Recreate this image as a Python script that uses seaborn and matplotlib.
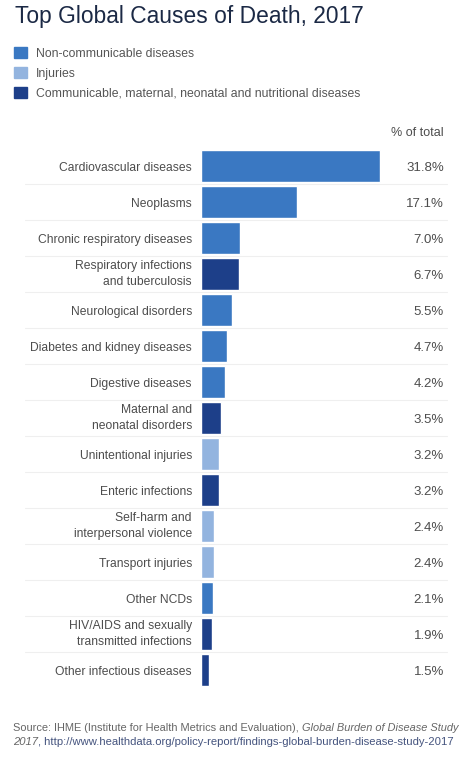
import matplotlib
matplotlib.use("Agg")
import matplotlib.pyplot as plt
import matplotlib.patches as mpatches
import pandas as pd
import seaborn as sns

# data
causes = [
    "Cardiovascular diseases",
    "Neoplasms",
    "Chronic respiratory diseases",
    "Respiratory infections\nand tuberculosis",
    "Neurological disorders",
    "Diabetes and kidney diseases",
    "Digestive diseases",
    "Maternal and\nneonatal disorders",
    "Unintentional injuries",
    "Enteric infections",
    "Self-harm and\ninterpersonal violence",
    "Transport injuries",
    "Other NCDs",
    "HIV/AIDS and sexually\ntransmitted infections",
    "Other infectious diseases",
]
share = [31.8, 17.1, 7.0, 6.7, 5.5, 4.7, 4.2, 3.5, 3.2, 3.2, 2.4, 2.4, 2.1, 1.9, 1.5]
group = ["NCD", "NCD", "NCD", "CMNN", "NCD", "NCD", "NCD", "CMNN",
         "INJ", "CMNN", "INJ", "INJ", "NCD", "CMNN", "CMNN"]

group_names = {
    "NCD": "Non-communicable diseases",
    "INJ": "Injuries",
    "CMNN": "Communicable, maternal, neonatal and nutritional diseases",
}
colors = {"NCD": "#3a78c2", "INJ": "#93b4df", "CMNN": "#1d3f89"}

df = pd.DataFrame({"cause": causes, "share": share, "group": group})

sns.set_style("white")
plt.rcParams["font.family"] = ["Liberation Sans", "DejaVu Sans"]

fig = plt.figure(figsize=(4.74, 7.59), dpi=100)
ax = fig.add_axes([0.424, 0.0935, 0.519, 0.7115])

sns.barplot(data=df, x="share", y="cause", hue="group", palette=colors,
            order=causes, dodge=False, width=0.88, legend=False,
            saturation=1, ax=ax)

ax.set_xlim(0, 43.7)
ax.set_ylim(14.5, -0.5)
ax.set_xlabel("")
ax.set_ylabel("")
ax.set_xticks([])
sns.despine(ax=ax, left=True, bottom=True)
ax.tick_params(axis="y", length=0, pad=6.5, labelsize=8.7, labelcolor="#4d4d4d")
for lab in ax.get_yticklabels():
    lab.set_linespacing(1.5)
    lab.set_multialignment("right")
    if "\n" in lab.get_text():
        lab.set_va("center")

# row separators
for i in range(len(causes) - 1):
    ax.plot([-0.715, 1.0], [i + 0.5, i + 0.5], color="#efefef", lw=0.8,
            transform=ax.get_yaxis_transform(), clip_on=False, zorder=0)

# value labels
for i, v in enumerate(share):
    ax.text(0.988, i, f"{v:.1f}%", transform=ax.get_yaxis_transform(),
            ha="right", va="center_baseline", fontsize=9.5, color="#4d4d4d")
ax.text(0.988, -0.97, "% of total", transform=ax.get_yaxis_transform(),
        ha="right", va="center_baseline", fontsize=9, color="#4d4d4d")

# title
fig.text(0.032, 0.994, "Top Global Causes of Death, 2017", ha="left", va="top",
         fontsize=16.4, color="#1b2945")

# legend
handles = [mpatches.Patch(color=colors[k], label=group_names[k])
           for k in ["NCD", "INJ", "CMNN"]]
fig.legend(handles=handles, loc="upper left", bbox_to_anchor=(0.03, 0.938),
           frameon=False, fontsize=8.8, handlelength=1.05, handleheight=1.05,
           handletextpad=0.7, labelspacing=0.58, borderaxespad=0,
           borderpad=0, labelcolor="#555555")

# source note
src_color = "#666666"
t1 = fig.text(0.027, 0.037, "Source: IHME (Institute for Health Metrics and Evaluation), ",
              fontsize=7.9, color=src_color, va="baseline")
ax.annotate("Global Burden of Disease Study", xy=(1, 0), xycoords=t1,
            va="bottom", fontsize=7.9, color=src_color, style="italic",
            annotation_clip=False)
t2 = fig.text(0.027, 0.018, "2017", fontsize=8.1, color=src_color,
              style="italic", va="baseline")
ax.annotate(", http://www.healthdata.org/policy-report/findings-global-burden-disease-study-2017",
            xy=(1, 0), xycoords=t2, va="bottom", fontsize=8.1, color="#45547e",
            annotation_clip=False)

fig.savefig("out.png", dpi=100)
